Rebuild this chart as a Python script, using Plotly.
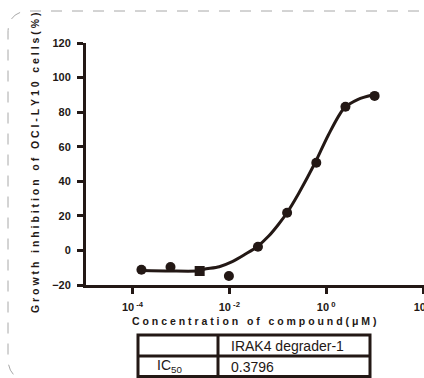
import plotly.graph_objects as go

W, H = 424, 378

# ---- data ----
conc_um = [0.000153, 0.00061, 0.00244, 0.0098, 0.039, 0.156, 0.625, 2.5, 10]
inhibition = [-11.2, -9.6, -11.9, -14.8, 2.1, 21.8, 50.7, 83.1, 89.4]
point_symbols = ["circle", "circle", "square", "circle", "circle", "circle", "circle", "circle", "circle"]

# fitted curve
fit_conc = [0.000155, 0.0006, 0.00238, 0.003, 0.0062, 0.0115, 0.0216, 0.0374, 0.065,
            0.105, 0.155, 0.27, 0.59, 1.11, 2.33, 4.57, 9.0]
fit_value = [-11.6, -11.9, -11.8, -10.9, -9.4, -6.5, -2.1, 2.1, 8.3,
             15.3, 21.8, 33.0, 50.7, 66.8, 82.2, 87.4, 89.9]

y_ticks = [-20, 0, 20, 40, 60, 80, 100, 120]
x_tick_vals = [1e-4, 1e-2, 1, 100]
x_tick_text = ["10<sup> -4</sup>", "10<sup> -2</sup>", "10<sup> 0</sup>", "10<sup> 2</sup>"]

x_title = "Concentration of compound(μM)"
y_title = "Growth inhibition of OCI-LY10 cells(%)"

table_header = ["", "IRAK4 degrader-1"]
table_row = ["IC<sub>50</sub>", "0.3796"]

INK = "#231815"
FONT = "Liberation Sans"


def px(x):
    return x / W


def py(y):
    return 1 - y / H


def spaced(s, sep):
    return sep.join(list(s))


fig = go.Figure()
fig.add_trace(go.Scatter(x=fit_conc, y=fit_value, mode="lines",
                         line=dict(color=INK, width=3, shape="spline", smoothing=0.8),
                         hoverinfo="skip", showlegend=False))
fig.add_trace(go.Scatter(x=conc_um, y=inhibition, mode="markers",
                         marker=dict(color=INK, size=10, symbol=point_symbols),
                         showlegend=False))

fig.update_layout(
    width=W, height=H,
    margin=dict(l=0, r=0, t=0, b=0, autoexpand=False),
    paper_bgcolor="white", plot_bgcolor="white",
    showlegend=False,
    font=dict(family=FONT, color=INK),
    xaxis=dict(type="log", domain=[px(86), 1], range=[-4.96, 2.02],
               automargin=False, ticklabeloverflow="allow",
               showline=True, linewidth=3, linecolor=INK,
               ticks="outside", ticklen=6, tickwidth=3, tickcolor=INK,
               tickvals=x_tick_vals, ticktext=x_tick_text,
               ticklabelstandoff=4,
               tickfont=dict(size=11, family=FONT, color=INK, weight="bold"),
               showgrid=False, zeroline=False, fixedrange=True),
    yaxis=dict(domain=[py(285), py(43)], range=[-20, 120],
               automargin=False,
               showline=True, linewidth=3, linecolor=INK,
               ticks="outside", ticklen=6, tickwidth=3, tickcolor=INK,
               tickvals=y_ticks, ticklabelstandoff=4,
               tickfont=dict(size=11, family=FONT, color=INK, weight="bold"),
               showgrid=False, zeroline=False, fixedrange=True),
)

annotations = [
    dict(x=px(254), y=py(321), xref="paper", yref="paper",
         text=spaced(x_title, "\u00a0"), showarrow=False,
         font=dict(size=10.5, family=FONT, color=INK, weight="bold"),
         xanchor="center", yanchor="middle"),
    dict(x=px(35), y=py(163), xref="paper", yref="paper",
         text=spaced(y_title, "\u00a0"), showarrow=False, textangle=-90,
         font=dict(size=10.5, family=FONT, color=INK, weight="bold"),
         xanchor="center", yanchor="middle"),
    dict(x=px(155), y=py(366), xref="paper", yref="paper", text=table_row[0],
         showarrow=False, font=dict(size=14, family=FONT, color=INK),
         xanchor="left", yanchor="middle"),
    dict(x=px(229), y=py(345.5), xref="paper", yref="paper", text=table_header[1],
         showarrow=False, font=dict(size=14, family=FONT, color=INK),
         xanchor="left", yanchor="middle"),
    dict(x=px(229), y=py(366.5), xref="paper", yref="paper", text=table_row[1],
         showarrow=False, font=dict(size=14, family=FONT, color=INK),
         xanchor="left", yanchor="middle"),
]
fig.update_layout(annotations=annotations)

shapes = []
# dashed rounded frame
frame_path = (f"M {px(440)},{py(11)} L {px(30)},{py(11)} "
              f"Q {px(8)},{py(11)} {px(8)},{py(33)} "
              f"L {px(8)},{py(358)} Q {px(8)},{py(380)} {px(30)},{py(380)} "
              f"L {px(440)},{py(380)}")
shapes.append(dict(type="path", path=frame_path, xref="paper", yref="paper",
                   line=dict(color="#a8a8a8", width=1, dash="11px,10px")))
# table
shapes.append(dict(type="rect", xref="paper", yref="paper",
                   x0=px(138), x1=px(370), y0=py(335), y1=py(376.5),
                   line=dict(color=INK, width=3)))
shapes.append(dict(type="line", xref="paper", yref="paper",
                   x0=px(138), x1=px(370), y0=py(356), y1=py(356),
                   line=dict(color=INK, width=3)))
shapes.append(dict(type="line", xref="paper", yref="paper",
                   x0=px(218), x1=px(218), y0=py(335), y1=py(376.5),
                   line=dict(color=INK, width=3)))
fig.update_layout(shapes=shapes)

fig.write_html("out.html", config={"displayModeBar": False},
               post_script="document.body.style.margin='0px';document.body.style.overflow='hidden';")
